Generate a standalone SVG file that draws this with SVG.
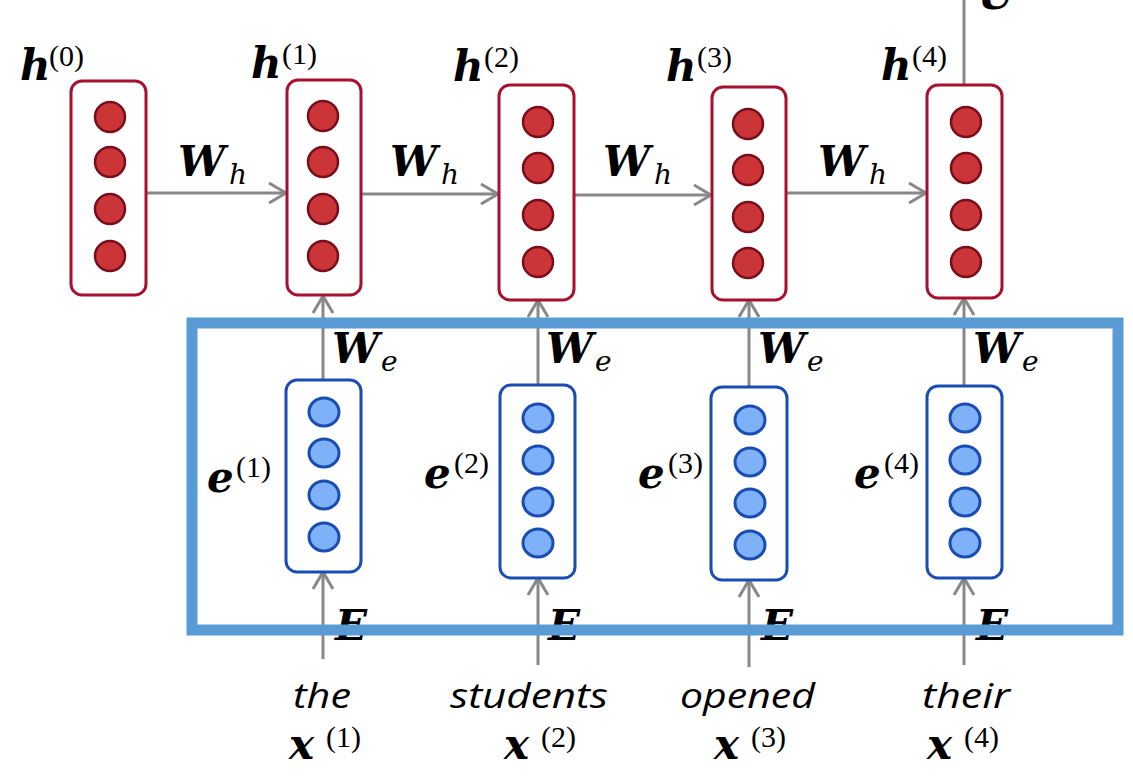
<svg xmlns="http://www.w3.org/2000/svg" width="1133" height="777" viewBox="0 0 1133 777">
<style>
.hbox{fill:#fff;stroke:#a8112e;stroke-width:3}
.hc{fill:#cc3538;stroke:#7a0d1c;stroke-width:2.5}
.ebox{fill:#fff;stroke:#1a4db3;stroke-width:3}
.ec{fill:#7fb1f9;stroke:#1a4db3;stroke-width:3}
.ln{stroke:#888;stroke-width:3;fill:none}
.mb{font-family:"DejaVu Serif","Liberation Serif",serif;font-weight:bold;font-style:italic;font-size:42px;fill:#000}
.sub{font-family:"DejaVu Serif","Liberation Serif",serif;font-style:italic;font-size:28px;fill:#000}
.sup{font-family:"Liberation Serif","DejaVu Serif",serif;font-size:30px;fill:#000}
.word{font-family:"Open Sans",sans-serif;font-style:italic;font-size:35px;fill:#000}
</style>
<defs>
<marker id="arr" markerWidth="22" markerHeight="24" refX="19" refY="12" orient="auto" markerUnits="userSpaceOnUse">
<path d="M2,2 L19,12 L2,22" fill="none" stroke="#888" stroke-width="3"/>
</marker>
</defs>
<rect width="1133" height="777" fill="#fff"/>

<g id="connectors">
<line class="ln" x1="146" y1="193" x2="286" y2="193" marker-end="url(#arr)"/>
<line class="ln" x1="361" y1="194" x2="498" y2="194" marker-end="url(#arr)"/>
<line class="ln" x1="574" y1="195" x2="711" y2="195" marker-end="url(#arr)"/>
<line class="ln" x1="786" y1="193" x2="926" y2="193" marker-end="url(#arr)"/>
<line class="ln" x1="964" y1="85" x2="964" y2="0"/>
<line class="ln" x1="323" y1="380" x2="323" y2="296" marker-end="url(#arr)"/>
<line class="ln" x1="538" y1="385" x2="538" y2="300" marker-end="url(#arr)"/>
<line class="ln" x1="749" y1="387" x2="749" y2="300" marker-end="url(#arr)"/>
<line class="ln" x1="964" y1="386" x2="964" y2="298" marker-end="url(#arr)"/>
<line class="ln" x1="323" y1="659" x2="323" y2="572" marker-end="url(#arr)"/>
<line class="ln" x1="538" y1="665" x2="538" y2="578" marker-end="url(#arr)"/>
<line class="ln" x1="749" y1="667" x2="749" y2="580" marker-end="url(#arr)"/>
<line class="ln" x1="964" y1="665" x2="964" y2="578" marker-end="url(#arr)"/>
</g>

<g id="h0">
<rect class="hbox" x="71" y="81" width="75" height="214" rx="11"/>
<circle class="hc" cx="110" cy="117" r="15"/><circle class="hc" cx="110" cy="162" r="15"/><circle class="hc" cx="110" cy="209" r="15"/><circle class="hc" cx="110" cy="256" r="15"/>
<text class="mb" x="20" y="80">h</text><text class="sup" x="49" y="66">(0)</text>
</g>
<g id="h1">
<rect class="hbox" x="287" y="80" width="74" height="215" rx="11"/>
<circle class="hc" cx="323" cy="116" r="15"/><circle class="hc" cx="323" cy="162" r="15"/><circle class="hc" cx="323" cy="209" r="15"/><circle class="hc" cx="323" cy="256" r="15"/>
<text class="mb" x="251" y="78">h</text><text class="sup" x="282" y="64">(1)</text>
</g>
<g id="h2">
<rect class="hbox" x="499" y="85" width="75" height="215" rx="11"/>
<circle class="hc" cx="538" cy="122" r="15"/><circle class="hc" cx="538" cy="168" r="15"/><circle class="hc" cx="538" cy="215" r="15"/><circle class="hc" cx="538" cy="262" r="15"/>
<text class="mb" x="453" y="81">h</text><text class="sup" x="484" y="67">(2)</text>
</g>
<g id="h3">
<rect class="hbox" x="712" y="87" width="74" height="213" rx="11"/>
<circle class="hc" cx="748" cy="124" r="15"/><circle class="hc" cx="748" cy="170" r="15"/><circle class="hc" cx="748" cy="217" r="15"/><circle class="hc" cx="748" cy="263" r="15"/>
<text class="mb" x="666" y="81">h</text><text class="sup" x="697" y="67">(3)</text>
</g>
<g id="h4">
<rect class="hbox" x="927" y="85" width="75" height="213" rx="11"/>
<circle class="hc" cx="966" cy="122" r="15"/><circle class="hc" cx="966" cy="168" r="15"/><circle class="hc" cx="966" cy="215" r="15"/><circle class="hc" cx="966" cy="262" r="15"/>
<text class="mb" x="881" y="80">h</text><text class="sup" x="912" y="66">(4)</text>
<text class="mb" x="978" y="9">U</text>
</g>

<g id="wh-labels">
<text class="mb" x="178" y="176">W</text><text class="sub" x="229" y="184">h</text>
<text class="mb" x="390" y="176">W</text><text class="sub" x="441" y="184">h</text>
<text class="mb" x="603" y="176">W</text><text class="sub" x="654" y="184">h</text>
<text class="mb" x="818" y="176">W</text><text class="sub" x="869" y="184">h</text>
</g>

<g id="e1">
<rect class="ebox" x="286" y="380" width="75" height="192" rx="11"/>
<ellipse class="ec" cx="324" cy="412" rx="15" ry="14"/><ellipse class="ec" cx="324" cy="453" rx="15" ry="14"/><ellipse class="ec" cx="324" cy="495" rx="15" ry="14"/><ellipse class="ec" cx="324" cy="537" rx="15" ry="14"/>
<text class="mb" x="207" y="492">e</text><text class="sup" x="236" y="477">(1)</text>
</g>
<g id="e2">
<rect class="ebox" x="500" y="385" width="75" height="193" rx="11"/>
<ellipse class="ec" cx="538" cy="418" rx="15" ry="14"/><ellipse class="ec" cx="538" cy="460" rx="15" ry="14"/><ellipse class="ec" cx="538" cy="502" rx="15" ry="14"/><ellipse class="ec" cx="538" cy="543" rx="15" ry="14"/>
<text class="mb" x="424" y="488">e</text><text class="sup" x="454" y="473">(2)</text>
</g>
<g id="e3">
<rect class="ebox" x="711" y="387" width="76" height="193" rx="11"/>
<ellipse class="ec" cx="750" cy="420" rx="15" ry="14"/><ellipse class="ec" cx="750" cy="462" rx="15" ry="14"/><ellipse class="ec" cx="750" cy="503" rx="15" ry="14"/><ellipse class="ec" cx="750" cy="545" rx="15" ry="14"/>
<text class="mb" x="638" y="488">e</text><text class="sup" x="668" y="473">(3)</text>
</g>
<g id="e4">
<rect class="ebox" x="927" y="386" width="75" height="192" rx="11"/>
<ellipse class="ec" cx="965" cy="418" rx="15" ry="14"/><ellipse class="ec" cx="965" cy="460" rx="15" ry="14"/><ellipse class="ec" cx="965" cy="502" rx="15" ry="14"/><ellipse class="ec" cx="965" cy="543" rx="15" ry="14"/>
<text class="mb" x="854" y="488">e</text><text class="sup" x="884" y="473">(4)</text>
</g>

<g id="we-labels">
<text class="mb" x="332" y="363">W</text><text class="sub" x="381" y="371">e</text>
<text class="mb" x="546" y="363">W</text><text class="sub" x="595" y="371">e</text>
<text class="mb" x="758" y="363">W</text><text class="sub" x="807" y="371">e</text>
<text class="mb" x="973" y="363">W</text><text class="sub" x="1022" y="371">e</text>
</g>

<g id="E-labels">
<text class="mb" x="335" y="640">E</text>
<text class="mb" x="548" y="640">E</text>
<text class="mb" x="761" y="640">E</text>
<text class="mb" x="976" y="640">E</text>
</g>

<g id="highlight">
<rect x="192" y="323" width="926" height="307" fill="none" stroke="#5b9bd5" stroke-width="11"/>
</g>

<g id="inputs">
<text class="word" x="293" y="708" textLength="58" lengthAdjust="spacingAndGlyphs">the</text>
<text class="word" x="450" y="708" textLength="158" lengthAdjust="spacingAndGlyphs">students</text>
<text class="word" x="680" y="708" textLength="135" lengthAdjust="spacingAndGlyphs">opened</text>
<text class="word" x="922" y="708" textLength="88" lengthAdjust="spacingAndGlyphs">their</text>
<text class="mb" x="289" y="759">x</text><text class="sup" x="326" y="747">(1)</text>
<text class="mb" x="504" y="759">x</text><text class="sup" x="541" y="747">(2)</text>
<text class="mb" x="714" y="759">x</text><text class="sup" x="751" y="747">(3)</text>
<text class="mb" x="927" y="759">x</text><text class="sup" x="964" y="747">(4)</text>
</g>
</svg>
